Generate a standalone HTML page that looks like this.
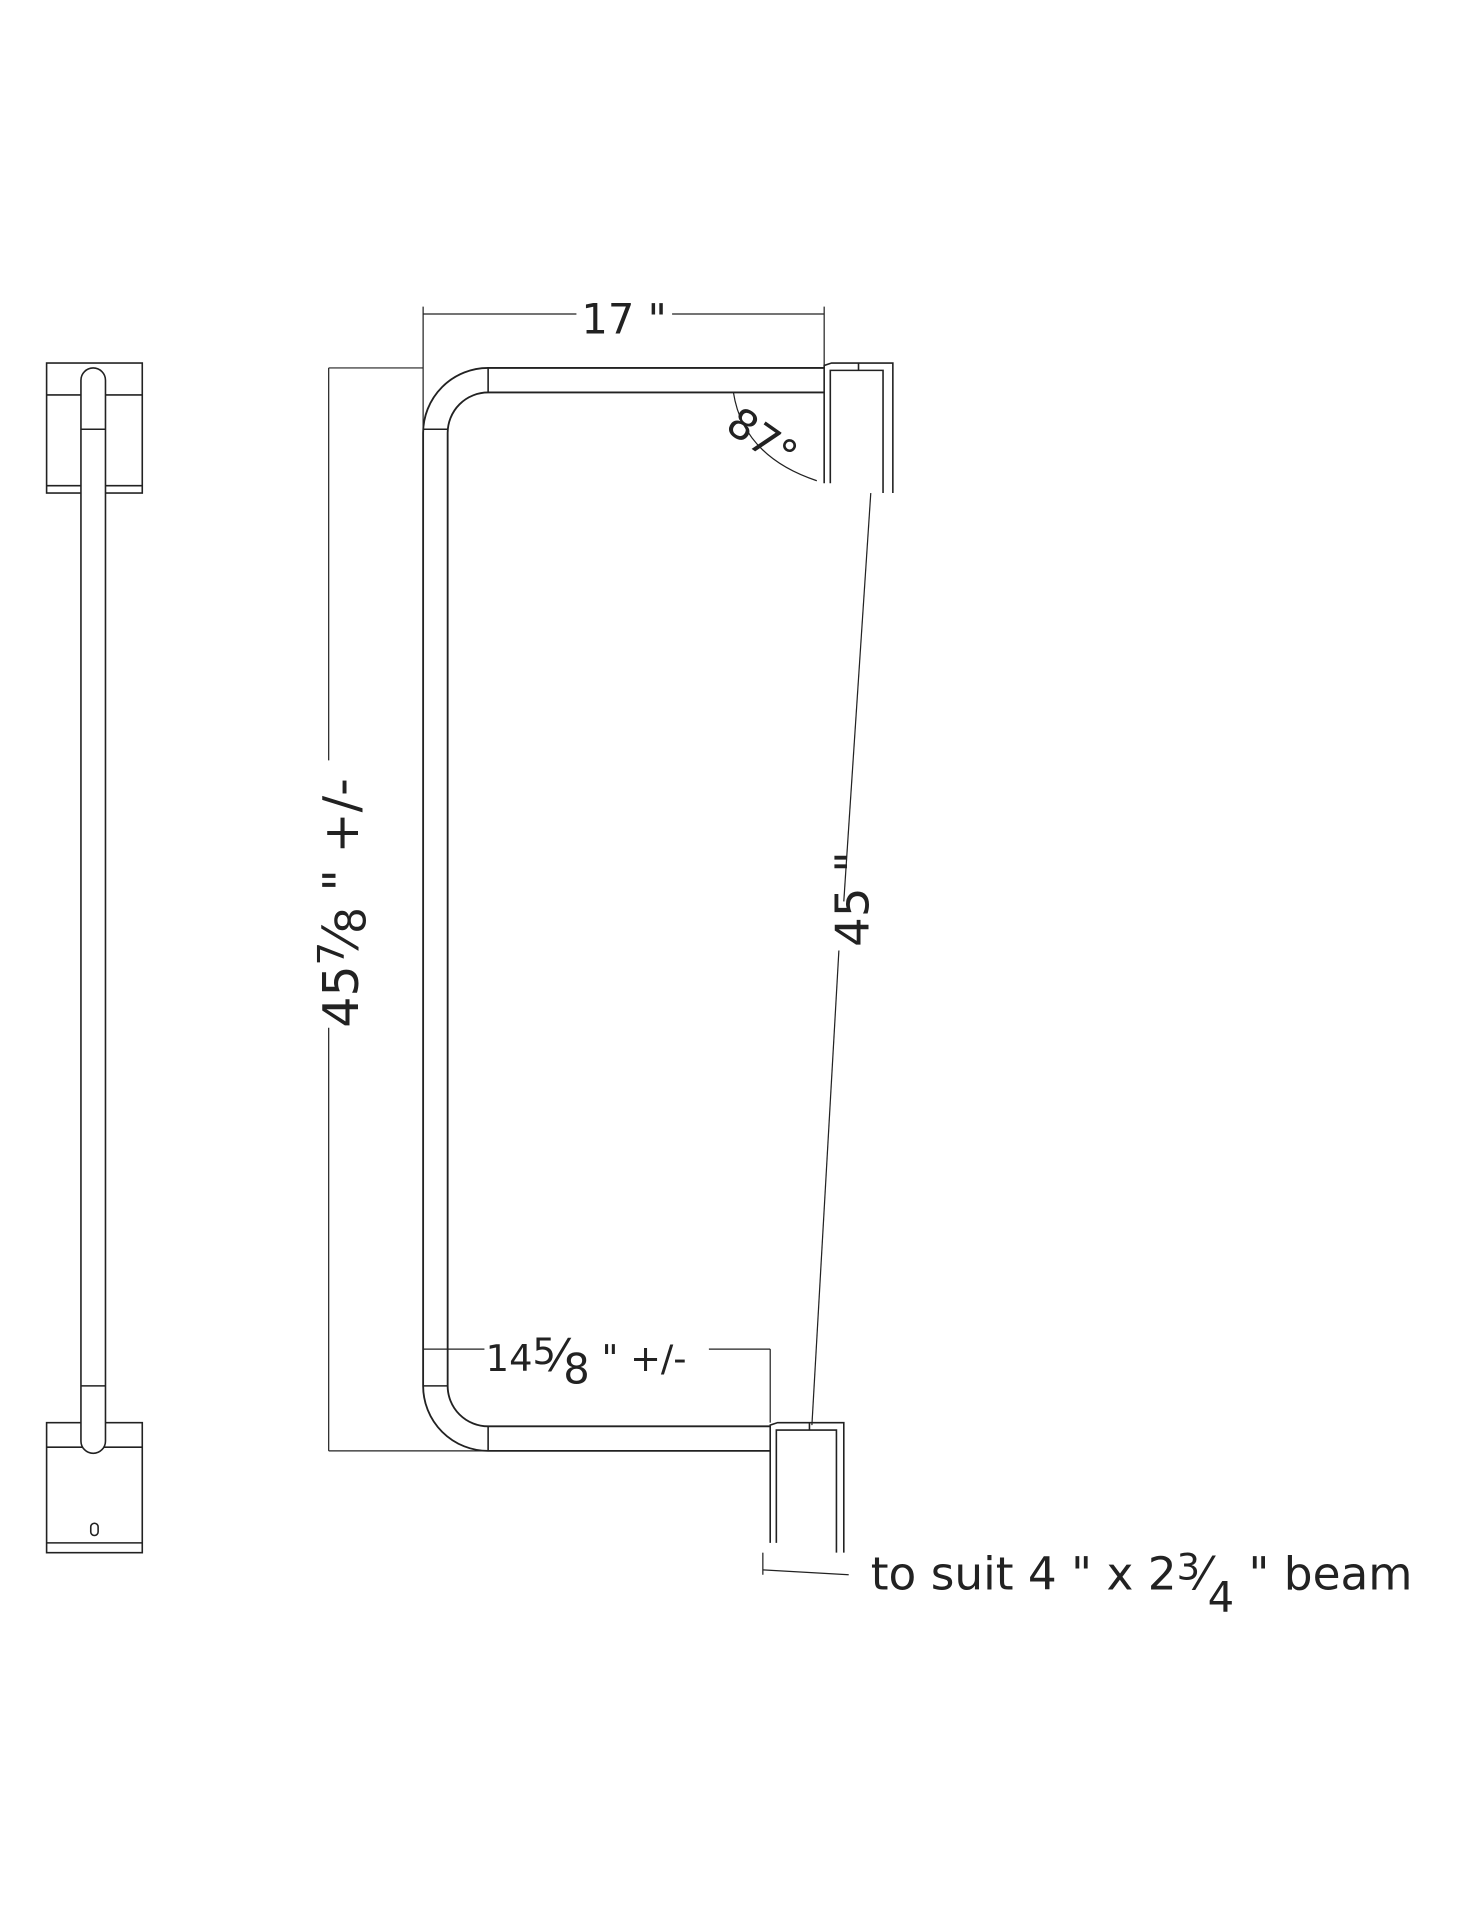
<!DOCTYPE html>
<html><head><style>html,body{margin:0;padding:0;background:#fff}svg{display:block}</style></head>
<body>
<svg width="1484" height="1920" viewBox="0 0 1210 1565.5" xmlns="http://www.w3.org/2000/svg" font-family="'DejaVu Sans','Liberation Sans',sans-serif" fill="none" stroke="#222" stroke-width="1.3">
<!-- left side view -->
<rect x="38" y="296" width="78" height="106"/>
<line x1="38" y1="322" x2="116" y2="322"/>
<line x1="38" y1="396" x2="116" y2="396"/>
<rect x="38" y="1160" width="78" height="106"/>
<line x1="38" y1="1180" x2="116" y2="1180"/>
<line x1="38" y1="1258" x2="116" y2="1258"/>
<path d="M66 310 A10 10 0 0 1 86 310 L86 1175 A10 10 0 0 1 66 1175 Z" fill="#fff"/>
<line x1="66" y1="350" x2="86" y2="350"/>
<line x1="66" y1="1130" x2="86" y2="1130"/>
<rect x="74" y="1242" width="6" height="10" rx="3"/>
<!-- 17" dimension -->
<line x1="345" y1="256" x2="470" y2="256" stroke-width="1"/>
<line x1="548" y1="256" x2="672" y2="256" stroke-width="1"/>
<line x1="345" y1="250" x2="345" y2="1100" stroke-width="1"/>
<line x1="672" y1="250" x2="672" y2="300" stroke-width="1"/>
<text x="474" y="272" font-size="34" fill="#222" stroke="none">17 "</text>
<!-- height dim -->
<line x1="268" y1="300" x2="345" y2="300" stroke-width="1"/>
<line x1="268" y1="1183" x2="398" y2="1183" stroke-width="1"/>
<line x1="268" y1="300" x2="268" y2="620" stroke-width="1"/>
<line x1="268" y1="838" x2="268" y2="1183" stroke-width="1"/>
<text transform="translate(292,838) rotate(-90)" font-size="40" fill="#222" stroke="none">45<tspan font-size="30" dy="-12">7</tspan><tspan font-size="40" dy="12">⁄</tspan><tspan font-size="34" dy="6">8</tspan><tspan dy="-6"> " +/-</tspan></text>
<!-- frame -->
<path d="M672 300 L398 300 A53 53 0 0 0 345 353 L345 1130 A53 53 0 0 0 398 1183 L628 1183" stroke-width="1.5"/>
<path d="M672 320 L398 320 A33 33 0 0 0 365 353 L365 1130 A33 33 0 0 0 398 1163 L628 1163" stroke-width="1.5"/>
<line x1="345" y1="350" x2="365" y2="350"/>
<line x1="345" y1="1130" x2="365" y2="1130"/>
<line x1="398" y1="300" x2="398" y2="320"/>
<line x1="398" y1="1163" x2="398" y2="1183"/>
<!-- top bracket -->
<path d="M672 394 L672 298 L678 296 L728 296 L728 402"/>
<path d="M677 394 L677 302 L720 302 L720 402"/>
<line x1="700" y1="296" x2="700" y2="302"/>
<!-- bottom bracket -->
<path d="M628 1258 L628 1162 L634 1160 L688 1160 L688 1266"/>
<path d="M633 1258 L633 1166 L682 1166 L682 1266"/>
<line x1="660" y1="1160" x2="660" y2="1166"/>
<!-- angle -->
<path d="M598 320 Q606 372 666 392" stroke-width="1"/>
<text transform="translate(590,350) rotate(35)" font-size="34" fill="#222" stroke="none">87°</text>
<!-- 45" line -->
<line x1="710" y1="402" x2="688" y2="735" stroke-width="1"/>
<line x1="684" y1="775" x2="662" y2="1162" stroke-width="1"/>
<text transform="translate(708,772) rotate(-90)" font-size="38" fill="#222" stroke="none">45 "</text>
<!-- 14 5/8 dim -->
<line x1="345" y1="1100" x2="395" y2="1100" stroke-width="1"/>
<line x1="578" y1="1100" x2="628" y2="1100" stroke-width="1"/>
<line x1="628" y1="1100" x2="628" y2="1160" stroke-width="1"/>
<text x="396" y="1118" font-size="30" fill="#222" stroke="none">14<tspan font-size="30" dy="-6">5</tspan><tspan font-size="36" dy="6">⁄</tspan><tspan font-size="34" dy="10">8</tspan><tspan dy="-10"> " +/-</tspan></text>
<!-- beam dim -->
<line x1="622" y1="1280" x2="692" y2="1284" stroke-width="1"/>
<line x1="622" y1="1266" x2="622" y2="1284" stroke-width="1"/>
<text x="710" y="1296" font-size="37" fill="#222" stroke="none">to suit 4 " x 2<tspan font-size="30" dy="-8">3</tspan><tspan dy="8">⁄</tspan><tspan font-size="34" dy="18">4</tspan><tspan dy="-18"> " beam</tspan></text>
</svg>
</body></html>
